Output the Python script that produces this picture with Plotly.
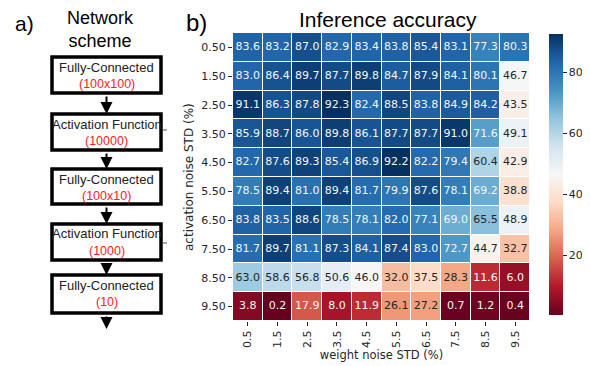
import plotly.graph_objects as go

x_labels = ["0.5", "1.5", "2.5", "3.5", "4.5", "5.5", "6.5", "7.5", "8.5", "9.5"]
y_labels = ["0.50", "1.50", "2.50", "3.50", "4.50", "5.50", "6.50", "7.50", "8.50", "9.50"]
accuracy = [
    [83.6, 83.2, 87.0, 82.9, 83.4, 83.8, 85.4, 83.1, 77.3, 80.3],
    [83.0, 86.4, 89.7, 87.7, 89.8, 84.7, 87.9, 84.1, 80.1, 46.7],
    [91.1, 86.3, 87.8, 92.3, 82.4, 88.5, 83.8, 84.9, 84.2, 43.5],
    [85.9, 88.7, 86.0, 89.8, 86.1, 87.7, 87.7, 91.0, 71.6, 49.1],
    [82.7, 87.6, 89.3, 85.4, 86.9, 92.2, 82.2, 79.4, 60.4, 42.9],
    [78.5, 89.4, 81.0, 89.4, 81.7, 79.9, 87.6, 78.1, 69.2, 38.8],
    [83.8, 83.5, 88.6, 78.5, 78.1, 82.0, 77.1, 69.0, 65.5, 48.9],
    [81.7, 89.7, 81.1, 87.3, 84.1, 87.4, 83.0, 72.7, 44.7, 32.7],
    [63.0, 58.6, 56.8, 50.6, 46.0, 32.0, 37.5, 28.3, 11.6, 6.0],
    [3.8, 0.2, 17.9, 8.0, 11.9, 26.1, 27.2, 0.7, 1.2, 0.4],
]
colorbar_ticks = [20, 40, 60, 80]

layer_names = ["Fully-Connected", "Activation Function", "Fully-Connected",
               "Activation Function", "Fully-Connected"]
layer_sizes = ["(100x100)", "(10000)", "(100x10)", "(1000)", "(10)"]

# page is 590x366; the browser body has an 8px margin, so the figure is offset
OX, OY = 8, 8
W, H = 590 - OX, 366 - OY
rdbu = ["#67001f", "#b2182b", "#d6604d", "#f4a582", "#fddbc7", "#f7f7f7",
        "#d1e5f0", "#92c5de", "#4393c3", "#2166ac", "#053061"]
colorscale = [[i / 10, c] for i, c in enumerate(rdbu)]

flat = [v for r in accuracy for v in r]
zmin, zmax = min(flat), max(flat)


def px(x):
    return (x - OX) / W


def py(y):
    return 1 - (y - OY) / H


fig = go.Figure()
fig.add_trace(go.Heatmap(
    z=accuracy, x=x_labels, y=y_labels, colorscale=colorscale,
    zmin=zmin, zmax=zmax, xgap=1, ygap=1, hoverinfo="skip",
    colorbar=dict(
        x=px(549), xanchor="left", xpad=0, ypad=0, thickness=14,
        len=281 / H, lenmode="fraction", y=py(175), yanchor="middle",
        tickvals=colorbar_ticks, ticks="outside", ticklen=4, tickwidth=1,
        tickcolor="#262626", outlinewidth=0,
        tickfont=dict(family="DejaVu Sans", size=11, color="#262626"),
    ),
))

tx, ty, tt, tc = [], [], [], []
for i, yl in enumerate(y_labels):
    for j, xl in enumerate(x_labels):
        v = accuracy[i][j]
        tx.append(xl)
        ty.append(yl)
        tt.append(f"{v:.1f}")
        tc.append("#f5f5f5" if (v > 67 or v < 22) else "#262626")
fig.add_trace(go.Scatter(
    x=tx, y=ty, text=tt, mode="text", hoverinfo="skip", showlegend=False,
    textfont=dict(family="DejaVu Sans", size=11, color=tc),
))

fig.update_layout(
    width=W, height=H, margin=dict(l=0, r=0, t=0, b=0, autoexpand=False),
    paper_bgcolor="white", plot_bgcolor="white", showlegend=False,
    xaxis=dict(domain=[px(233), px(530)], type="category", tickangle=-90,
               ticks="outside", ticklen=4, automargin=False,
               tickcolor="#262626", showgrid=False, zeroline=False, showline=False,
               tickfont=dict(family="DejaVu Sans", size=11, color="#262626"),
               title=dict(text="weight noise STD (%)", standoff=2,
                          font=dict(family="DejaVu Sans", size=11.5, color="#262626"))),
    yaxis=dict(domain=[py(321), py(33)], type="category", autorange="reversed",
               ticks="outside", ticklen=4, tickcolor="#262626", showgrid=False,
               zeroline=False, showline=False, automargin=False,
               tickfont=dict(family="DejaVu Sans", size=11, color="#262626")),
)


def note(x, y, text, size, color="black", family="Liberation Sans", angle=0):
    fig.add_annotation(x=px(x), y=py(y), xref="paper", yref="paper", text=text,
                       showarrow=False, xanchor="center", yanchor="middle",
                       textangle=angle,
                       font=dict(family=family, size=size, color=color))


# y-axis title
note(189, 177, "activation noise STD (%)", 12, "#262626", "DejaVu Sans", -90)

# Titles / panel labels
note(388, 20, "Inference accuracy", 21)
note(196, 22, "b)", 24)
note(24, 23, "a)", 21)
note(100, 30, "Network<br>scheme", 18)

# Network scheme boxes
boxes = [(57, 93), (114, 150), (169, 204), (224, 260), (275, 313)]
bx0, bx1 = 52, 161
cx = (bx0 + bx1) / 2
narrow = "Liberation Sans Narrow, Liberation Sans"
for k, (y0, y1) in enumerate(boxes):
    fig.add_shape(type="rect", xref="paper", yref="paper", x0=px(bx0), x1=px(bx1),
                  y0=py(y0), y1=py(y1),
                  line=dict(color="black", width=3.5), fillcolor="white")
    note(cx, y0 + 10, layer_names[k], 13, "#222", narrow)
    note(cx, y0 + 27, layer_sizes[k], 12.5, "#ff2020", narrow)
    nxt = boxes[k + 1][0] if k + 1 < len(boxes) else 329
    fig.add_annotation(x=px(cx), y=py(nxt), ax=0, ay=-(nxt - y1 - 2), xref="paper", yref="paper",
                       axref="pixel", ayref="pixel", text="", showarrow=True,
                       arrowhead=2, arrowsize=1.2, arrowwidth=2, arrowcolor="black")

# small side ticks next to activation boxes
for yy in (130, 243):
    fig.add_shape(type="line", xref="paper", yref="paper", x0=px(bx1 + 2), x1=px(bx1 + 6),
                  y0=py(yy), y1=py(yy), line=dict(color="#555", width=1))

fig.write_html("out.html")
